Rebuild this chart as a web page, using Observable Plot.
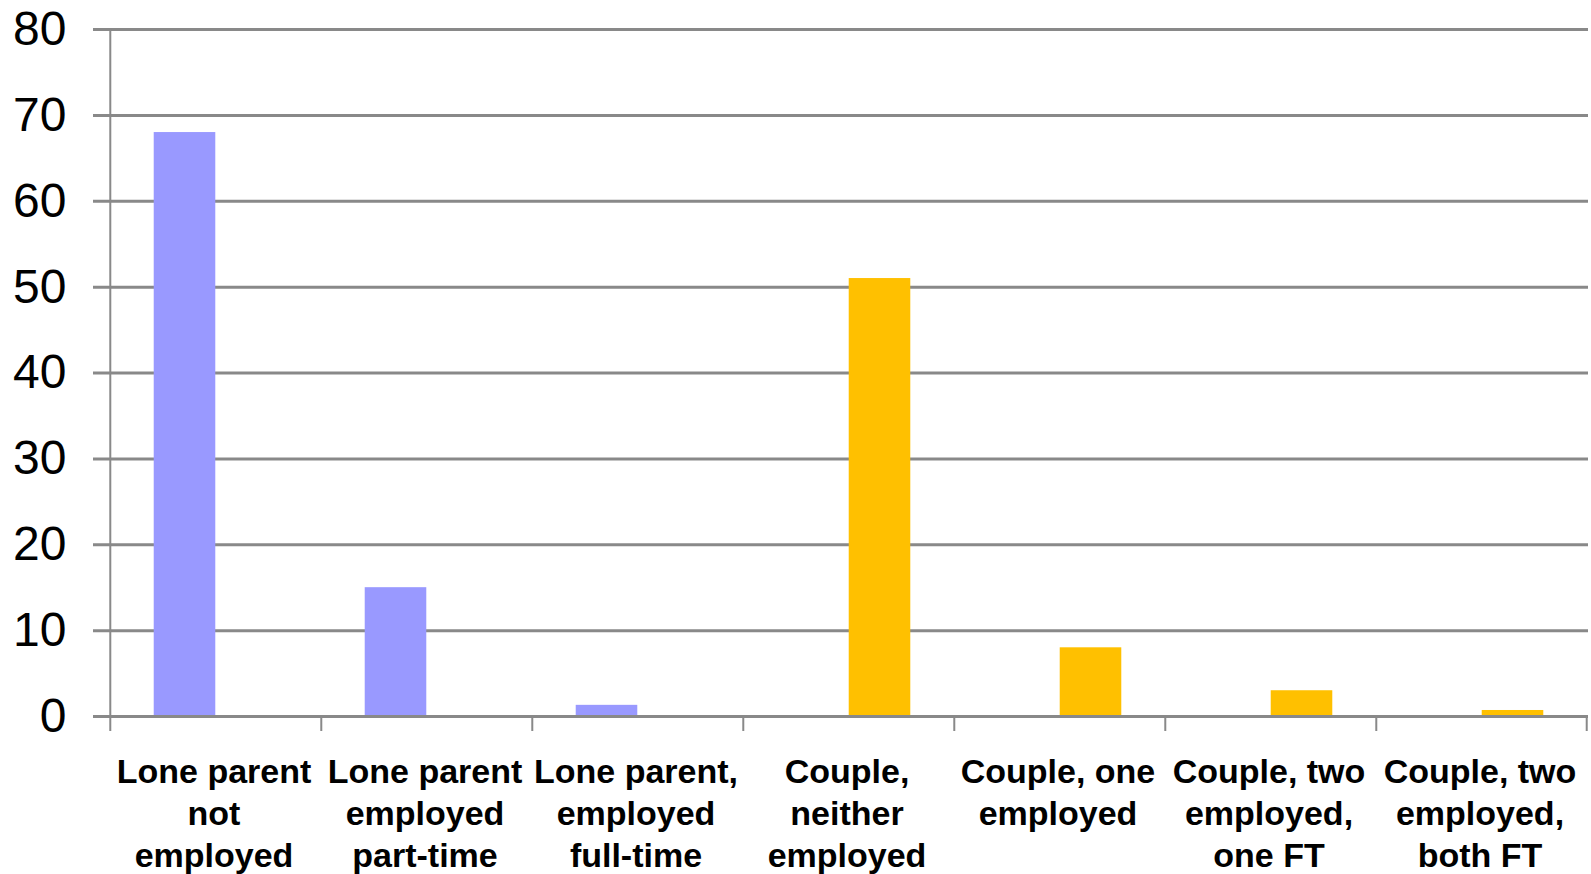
<!DOCTYPE html>
<html>
<head>
<meta charset="utf-8">
<script src="https://cdn.jsdelivr.net/npm/d3@7"></script>
<script src="https://cdn.jsdelivr.net/npm/@observablehq/plot@0.6"></script>
<style>
  html, body { margin: 0; padding: 0; background: #fff; }
  #chart svg { display: block; }
</style>
</head>
<body>
<div id="chart"></div>
<script>
// Data
const categories = [
  "Lone parent\nnot\nemployed",
  "Lone parent\nemployed\npart-time",
  "Lone parent,\nemployed\nfull-time",
  "Couple,\nneither\nemployed",
  "Couple, one\nemployed",
  "Couple, two\nemployed,\none FT",
  "Couple, two\nemployed,\nboth FT"
];
const seriesOf = ["Lone parent", "Lone parent", "Lone parent", "Couple", "Couple", "Couple", "Couple"];
const values = [68, 15, 1.3, 51, 8, 3, 0.7];
const yTicks = [0, 10, 20, 30, 40, 50, 60, 70, 80];
const seriesColors = {"Lone parent": "#9999FF", "Couple": "#FFC000"};

const rows = categories.map((c, i) => ({category: c, series: seriesOf[i], value: values[i]}));

const width = 1591, height = 874;
const marginLeft = 108, marginRight = 3, marginTop = 29, marginBottom = 158;
const bw = (width - marginLeft - marginRight) / categories.length;
const barW = 62;
const grid = "#898989";
const font = "'Liberation Sans', Arial, sans-serif";

const chart = Plot.plot({
  width, height, marginLeft, marginRight, marginTop, marginBottom,
  style: {fontFamily: font, background: "#fff"},
  x: {domain: categories, padding: 0, label: null},
  y: {domain: [0, 80], label: null},
  marks: [
    Plot.ruleY(yTicks, {y: d => d, stroke: grid, strokeWidth: 3, insetLeft: -15}),
    Plot.ruleX([categories[0]], {x: d => d, dx: -bw / 2, y1: 0, y2: 80, stroke: grid, strokeWidth: 2}),
    Plot.barY(rows.filter(d => d.series === "Lone parent"), {
      x: "category", y: "value", fill: seriesColors["Lone parent"],
      insetLeft: bw / 2 - barW, insetRight: bw / 2
    }),
    Plot.barY(rows.filter(d => d.series === "Couple"), {
      x: "category", y: "value", fill: seriesColors["Couple"],
      insetLeft: bw / 2, insetRight: bw / 2 - barW
    }),
    Plot.ruleY([0], {stroke: grid, strokeWidth: 3, insetLeft: -15}),
    Plot.axisY({ticks: yTicks, tickSize: 0, tickPadding: 42, fontSize: 48, fill: "#000", label: null}),
    Plot.axisX({tickSize: 15, tickFormat: () => "", dx: -bw / 2, stroke: grid, strokeWidth: 2, label: null}),
    Plot.axisX({ticks: [categories[categories.length - 1]], tickSize: 15, tickFormat: () => "", dx: bw / 2 - 1, stroke: grid, strokeWidth: 2, label: null}),
    Plot.axisX({tickSize: 0, tickPadding: 37, dx: -2, fontSize: 34, fontWeight: "bold", lineHeight: 1.235, fill: "#000", label: null})
  ]
});
document.getElementById("chart").appendChild(chart);
</script>
</body>
</html>
